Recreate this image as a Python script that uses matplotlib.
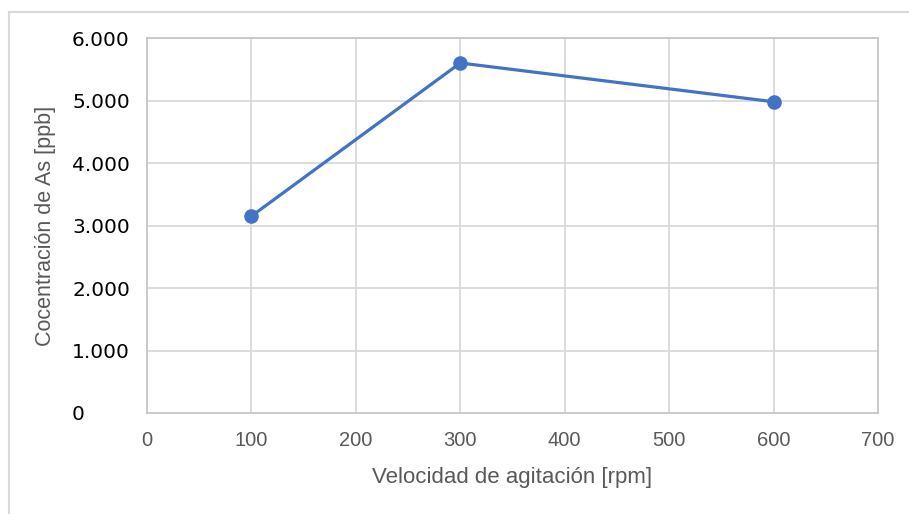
import matplotlib
matplotlib.use("Agg")
import matplotlib.pyplot as plt
from matplotlib.lines import Line2D
from matplotlib.ticker import FuncFormatter

# Data
velocidad = [100, 300, 600]
concentracion = [3150, 5600, 4980]
x_ticks = [0, 100, 200, 300, 400, 500, 600, 700]
y_ticks = [0, 1000, 2000, 3000, 4000, 5000, 6000]
x_label = "Velocidad de agitación [rpm]"
y_label = "Cocentración de As [ppb]"

fig = plt.figure(figsize=(9.09, 5.14), dpi=100)
ax = fig.add_axes([147/909, 1-413/514, 731/909, 375/514])

ax.plot(velocidad, concentracion, color="#4472C4", linewidth=2.3,
        marker="o", markersize=9.5, markerfacecolor="#4472C4",
        markeredgecolor="#4472C4", zorder=3, clip_on=False)

ax.set_xlim(0, 700)
ax.set_ylim(0, 6000)
ax.set_xticks(x_ticks)
ax.set_yticks(y_ticks)

def fmt(v, pos):
    v = int(round(v))
    return f"{v:,}".replace(",", ".")

ax.yaxis.set_major_formatter(FuncFormatter(fmt))
ax.grid(True, color="#d9d9d9", linewidth=1.3)
ax.set_axisbelow(True)
for s in ax.spines.values():
    s.set_color("#c8c8c8")
    s.set_linewidth(1.3)

ax.tick_params(axis="both", length=0)
ax.tick_params(axis="x", pad=13, labelsize=14.5, labelcolor="#595959")
ax.tick_params(axis="y", pad=54, labelsize=14.5, labelcolor="#000000")
for lab in ax.get_xticklabels():
    lab.set_fontfamily("Liberation Sans")
for lab in ax.get_yticklabels():
    lab.set_fontfamily("DejaVu Sans")
    lab.set_horizontalalignment("left")

ax.set_xlabel(x_label, fontsize=16, color="#595959", family="Liberation Sans")
ax.set_ylabel(y_label, fontsize=15.5, color="#595959", family="Liberation Sans")
ax.xaxis.set_label_coords(0.499, -0.173)
ax.yaxis.set_label_coords(-0.1395, 0.5)
ax.xaxis.label.set_verticalalignment("center")
ax.yaxis.label.set_verticalalignment("center")

# outer chart border (top and left visible)
fig.add_artist(Line2D([9/909, 1.0], [1-12/514, 1-12/514], transform=fig.transFigure,
                      color="#d9d9d9", linewidth=1.5))
fig.add_artist(Line2D([9/909, 9/909], [0, 1-12/514], transform=fig.transFigure,
                      color="#d9d9d9", linewidth=1.5))

fig.savefig("out.png", dpi=100)
